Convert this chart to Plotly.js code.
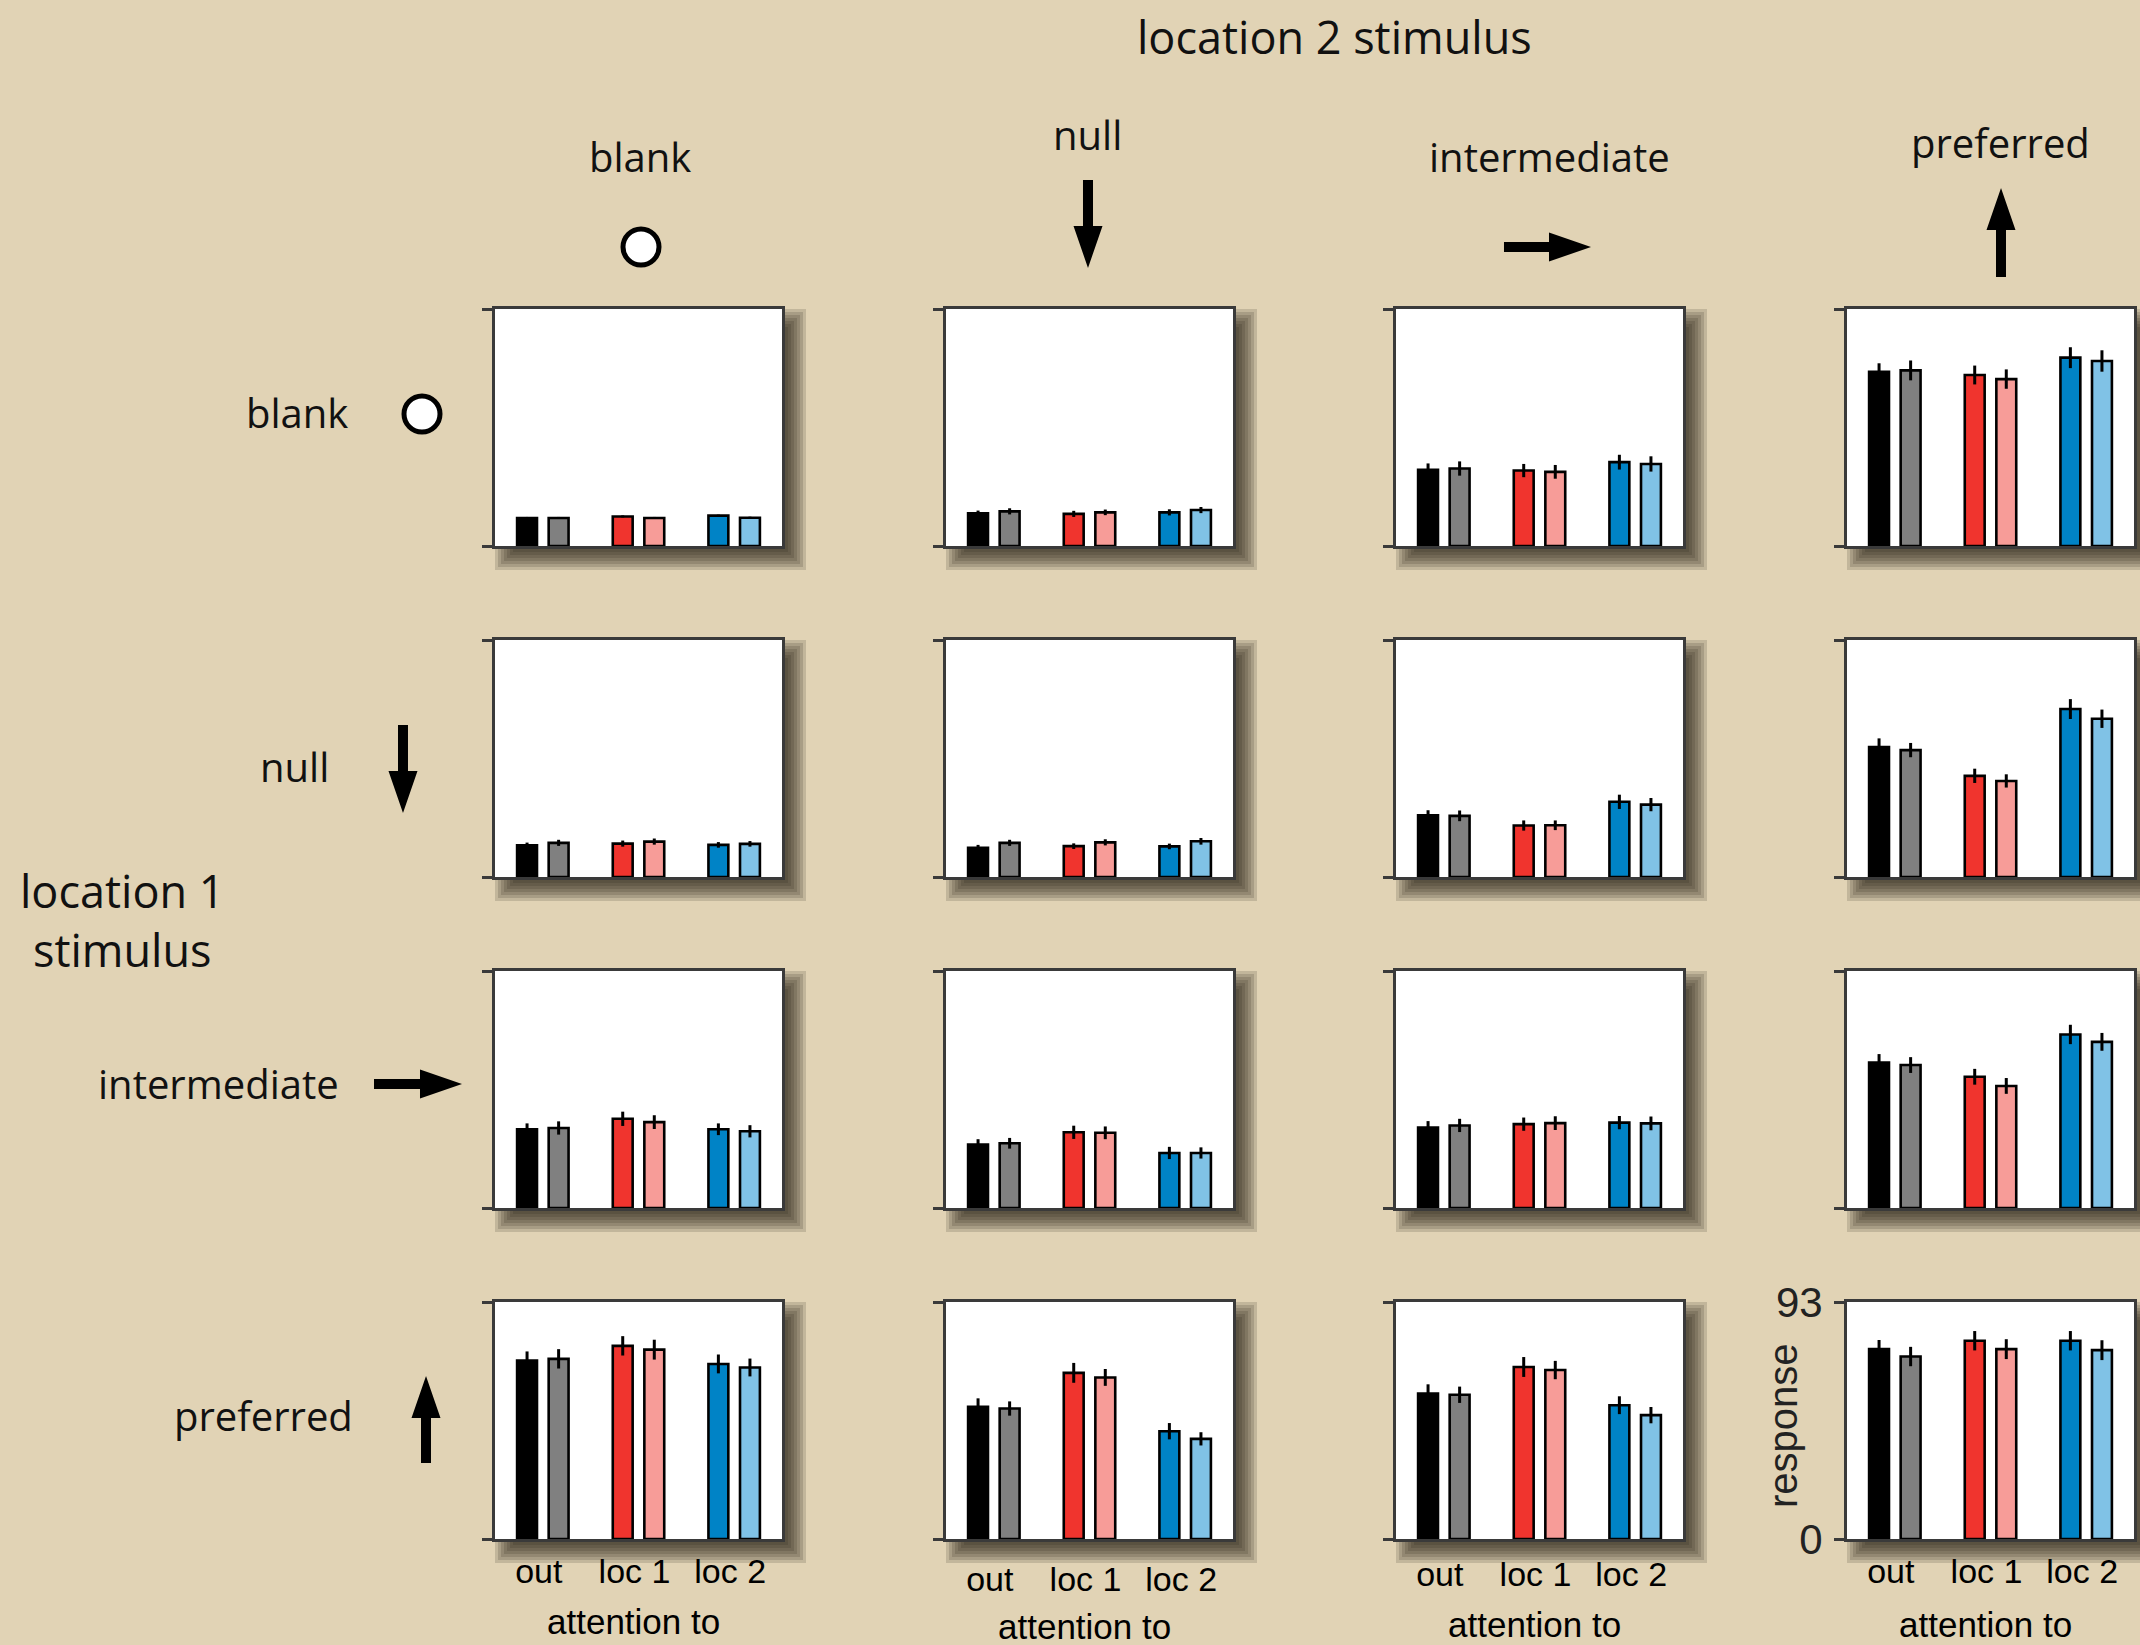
<!DOCTYPE html>
<html>
<head>
<meta charset="utf-8">
<script src="https://cdn.plot.ly/plotly-3.0.1.min.js"></script>
<style>
html, body { margin: 0; padding: 0; background: #e1d3b5; }
#chart { width: 2140px; height: 1645px; }
</style>
</head>
<body>
<div id="chart"></div>
<script>
// ---------------- DATA ----------------
const attentionTo = ['out', 'loc 1', 'loc 2'];
const loc1Stimuli = ['blank', 'null', 'intermediate', 'preferred'];   // rows
const loc2Stimuli = ['blank', 'null', 'intermediate', 'preferred'];   // columns
const yMax = 93;

// response per panel: [out A, out B, loc1 A, loc1 B, loc2 A, loc2 B]  (row = location 1, col = location 2)
const resp_blank_blank = [11.0, 11.0, 11.6, 11.0, 11.9, 11.1];
const err_blank_blank  = [0.4, 0.4, 0.4, 0.4, 0.4, 0.4];
const resp_blank_null = [12.8, 13.6, 12.6, 13.2, 13.2, 14.1];
const err_blank_null  = [1.1, 1.2, 1.2, 1.1, 1.2, 1.2];
const resp_blank_intermediate = [29.9, 30.4, 29.6, 29.1, 32.9, 32.2];
const err_blank_intermediate  = [2.5, 2.8, 2.6, 2.7, 2.9, 3.0];
const resp_blank_preferred = [68.4, 68.9, 67.1, 65.5, 73.9, 72.6];
const err_blank_preferred  = [3.3, 3.9, 3.7, 3.8, 4.1, 4.2];

const resp_null_blank = [12.4, 13.4, 13.1, 13.9, 12.6, 13.0];
const err_null_blank  = [1.1, 1.2, 1.2, 1.2, 1.1, 1.1];
const resp_null_null = [11.5, 13.4, 12.1, 13.6, 12.0, 14.0];
const err_null_null  = [1.1, 1.2, 1.1, 1.2, 1.1, 1.3];
const resp_null_intermediate = [24.2, 24.0, 20.2, 20.3, 29.5, 28.4];
const err_null_intermediate  = [2.0, 2.1, 2.0, 1.9, 2.8, 2.6];
const resp_null_preferred = [51.0, 49.8, 39.7, 37.7, 65.9, 62.1];
const err_null_preferred  = [3.4, 2.8, 2.8, 2.6, 3.9, 3.6];

const resp_intermediate_blank = [30.9, 31.4, 35.0, 33.7, 30.9, 30.1];
const err_intermediate_blank  = [2.3, 2.6, 2.8, 2.7, 2.3, 2.4];
const resp_intermediate_null = [24.9, 25.4, 29.7, 29.5, 21.6, 21.6];
const err_intermediate_null  = [2.1, 2.1, 2.6, 2.5, 2.4, 2.2];
const resp_intermediate_intermediate = [31.6, 32.4, 32.9, 33.3, 33.5, 33.2];
const err_intermediate_intermediate  = [2.5, 2.6, 2.6, 2.7, 2.6, 2.7];
const resp_intermediate_preferred = [57.1, 56.1, 51.5, 47.9, 68.1, 65.2];
const err_intermediate_preferred  = [3.3, 3.1, 3.1, 3.1, 3.8, 3.5];

const resp_preferred_blank = [70.0, 70.7, 75.8, 74.3, 68.7, 67.3];
const err_preferred_blank  = [3.6, 3.8, 3.8, 3.9, 3.7, 3.5];
const resp_preferred_null = [51.9, 51.2, 65.2, 63.4, 42.3, 39.3];
const err_preferred_null  = [3.3, 2.8, 3.9, 3.3, 3.2, 2.6];
const resp_preferred_intermediate = [57.1, 56.6, 67.5, 66.3, 52.5, 48.6];
const err_preferred_intermediate  = [3.6, 3.2, 3.9, 3.6, 3.5, 3.2];
const resp_preferred_preferred = [74.5, 71.6, 77.8, 74.5, 77.8, 74.1];
const err_preferred_preferred  = [3.6, 3.8, 3.8, 3.9, 3.8, 3.9];

const respGrid = [
  [resp_blank_blank, resp_blank_null, resp_blank_intermediate, resp_blank_preferred],
  [resp_null_blank, resp_null_null, resp_null_intermediate, resp_null_preferred],
  [resp_intermediate_blank, resp_intermediate_null, resp_intermediate_intermediate, resp_intermediate_preferred],
  [resp_preferred_blank, resp_preferred_null, resp_preferred_intermediate, resp_preferred_preferred]
];
const errGrid = [
  [err_blank_blank, err_blank_null, err_blank_intermediate, err_blank_preferred],
  [err_null_blank, err_null_null, err_null_intermediate, err_null_preferred],
  [err_intermediate_blank, err_intermediate_null, err_intermediate_intermediate, err_intermediate_preferred],
  [err_preferred_blank, err_preferred_null, err_preferred_intermediate, err_preferred_preferred]
];

// ---------------- STYLE / LAYOUT ----------------
const W = 2140, H = 1645;
const colorsA = ['#000000', '#f0342e', '#0083c6'];
const colorsB = ['#808080', '#f79c98', '#80c2e6'];
const frameColor = '#3a3a3a';
const labelFont = 'Open Sans, Lato, sans-serif';
const axisFont = 'Liberation Sans, Arial, Helvetica, sans-serif';

const colLeft = [495, 946, 1396, 1847];
const rowTop = [309, 640, 971, 1302];
const panelW = 287, panelH = 237;
const tickStandoff = [0, 8, 3, 0];
const attnY = [1621, 1626, 1624, 1624];

const fx = px => px / W;
const fy = py => 1 - py / H;

const traces = [];
const layout = {
  width: W, height: H,
  margin: {l: 0, r: 0, t: 0, b: 0},
  paper_bgcolor: '#e1d3b5',
  plot_bgcolor: 'rgba(0,0,0,0)',
  barmode: 'group',
  bargap: 0.34,
  bargroupgap: 0.37,
  showlegend: false,
  shapes: [],
  annotations: []
};

for (let r = 0; r < 4; r++) {
  for (let c = 0; c < 4; c++) {
    const idx = r * 4 + c + 1;
    const xa = idx === 1 ? 'x' : 'x' + idx;
    const ya = idx === 1 ? 'y' : 'y' + idx;
    const xk = idx === 1 ? 'xaxis' : 'xaxis' + idx;
    const yk = idx === 1 ? 'yaxis' : 'yaxis' + idx;
    const L = colLeft[c], T = rowTop[r];
    const v = respGrid[r][c], e = errGrid[r][c];

    traces.push({
      type: 'bar', x: attentionTo, y: [v[0], v[2], v[4]], xaxis: xa, yaxis: ya,
      marker: {color: colorsA, line: {color: '#000', width: 2.6}},
      error_y: {type: 'data', array: [e[0], e[2], e[4]], color: '#000', thickness: 3, width: 0},
      hoverinfo: 'skip'
    });
    traces.push({
      type: 'bar', x: attentionTo, y: [v[1], v[3], v[5]], xaxis: xa, yaxis: ya,
      marker: {color: colorsB, line: {color: '#000', width: 2.6}},
      error_y: {type: 'data', array: [e[1], e[3], e[5]], color: '#000', thickness: 3, width: 0},
      hoverinfo: 'skip'
    });

    layout[xk] = {
      domain: [fx(L), fx(L + panelW)], anchor: ya,
      type: 'category', categoryorder: 'array', categoryarray: attentionTo,
      range: [-0.5, 2.5],
      showline: true, mirror: true, linecolor: frameColor, linewidth: 3,
      ticks: '', showgrid: false, zeroline: false,
      showticklabels: r === 3,
      tickfont: {family: axisFont, size: 34, color: '#000'},
      ticklabelstandoff: tickStandoff[c],
      ticklabelshift: -4,
      fixedrange: true
    };
    layout[yk] = {
      domain: [fy(T + panelH), fy(T)], anchor: xa,
      range: [0, yMax], tickmode: 'array', tickvals: [0, yMax], ticktext: ['0', String(yMax)],
      ticks: 'outside', ticklen: 10, tickwidth: 3, tickcolor: frameColor,
      showline: true, mirror: true, linecolor: frameColor, linewidth: 3,
      showgrid: false, zeroline: false,
      showticklabels: r === 3 && c === 3,
      tickfont: {family: axisFont, size: 42, color: '#222'},
      ticklabelstandoff: 3,
      fixedrange: true
    };

    // drop shadow (layered translucent rectangles) + white panel
    const dx = 12, dy = 12;
    for (let k = 0; k < 7; k++) {
      const ex = -6 + k * 3;
      layout.shapes.push({
        type: 'rect', xref: 'paper', yref: 'paper', layer: 'below',
        x0: fx(L + dx - ex), x1: fx(L + panelW + dx + ex),
        y0: fy(T + panelH + dy + ex), y1: fy(T + dy - ex),
        fillcolor: 'rgba(35,28,18,0.16)', line: {width: 0}
      });
    }
    layout.shapes.push({
      type: 'rect', xref: 'paper', yref: 'paper', layer: 'below',
      x0: fx(L), x1: fx(L + panelW), y0: fy(T + panelH), y1: fy(T),
      fillcolor: '#ffffff', line: {width: 0}
    });

    if (r === 3) {
      layout.annotations.push({
        text: 'attention to', xref: 'paper', yref: 'paper',
        x: fx(L + panelW / 2 - 5), y: fy(attnY[c]), xanchor: 'center', yanchor: 'middle',
        showarrow: false, font: {family: axisFont, size: 35, color: '#000'}
      });
    }
  }
}

// y-axis title on the bottom-right panel
layout.annotations.push({
  text: 'response', xref: 'paper', yref: 'paper', x: fx(1783), y: fy(1426),
  xanchor: 'center', yanchor: 'middle', textangle: -90, showarrow: false,
  font: {family: axisFont, size: 40, color: '#222'}
});

// stimulus labels
function addLabel(text, px, py, size) {
  layout.annotations.push({
    text: text, xref: 'paper', yref: 'paper', x: fx(px), y: fy(py),
    xanchor: 'center', yanchor: 'middle', showarrow: false,
    font: {family: labelFont, size: size, color: '#111'}
  });
}
addLabel('location 2 stimulus', 1334, 36, 45);
addLabel('location 1<br>stimulus', 122, 920, 45);
const headerPos = [[640, 157], [1087, 134], [1549, 157], [2000, 142]];
loc2Stimuli.forEach((s, i) => addLabel(s, headerPos[i][0], headerPos[i][1], 40));
const rowLabelPos = [[297, 412], [294, 767], [218, 1083], [263, 1415]];
loc1Stimuli.forEach((s, i) => addLabel(s, rowLabelPos[i][0], rowLabelPos[i][1], 40));

// stimulus icons
function circleIcon(cx, cy) {
  layout.shapes.push({
    type: 'circle', xref: 'paper', yref: 'paper', layer: 'above',
    x0: fx(cx - 18), x1: fx(cx + 18), y0: fy(cy + 18), y1: fy(cy - 18),
    fillcolor: '#ffffff', line: {color: '#000', width: 5}
  });
}
function arrowIcon(x0, y0, x1, y1) {
  const sw = 10, hw = 29, hl = 42;
  const dxx = x1 - x0, dyy = y1 - y0, len = Math.hypot(dxx, dyy);
  const ux = dxx / len, uy = dyy / len, nx = -uy, ny = ux;
  const bx = x1 - ux * hl, by = y1 - uy * hl;
  const pts = [
    [x0 + nx * sw / 2, y0 + ny * sw / 2],
    [bx + nx * sw / 2, by + ny * sw / 2],
    [bx + nx * hw / 2, by + ny * hw / 2],
    [x1, y1],
    [bx - nx * hw / 2, by - ny * hw / 2],
    [bx - nx * sw / 2, by - ny * sw / 2],
    [x0 - nx * sw / 2, y0 - ny * sw / 2]
  ];
  const path = 'M' + pts.map(p => fx(p[0]).toFixed(5) + ',' + fy(p[1]).toFixed(5)).join('L') + 'Z';
  layout.shapes.push({
    type: 'path', xref: 'paper', yref: 'paper', layer: 'above', path: path,
    fillcolor: '#000', line: {width: 0}
  });
}
// column (location 2) icons
circleIcon(641, 247);
arrowIcon(1088, 180, 1088, 268);
arrowIcon(1504, 247, 1591, 247);
arrowIcon(2001, 277, 2001, 188);
// row (location 1) icons
circleIcon(422, 414);
arrowIcon(403, 725, 403, 813);
arrowIcon(374, 1084, 462, 1084);
arrowIcon(426, 1463, 426, 1376);

Plotly.newPlot('chart', traces, layout, {staticPlot: true, displayModeBar: false});
</script>
</body>
</html>
